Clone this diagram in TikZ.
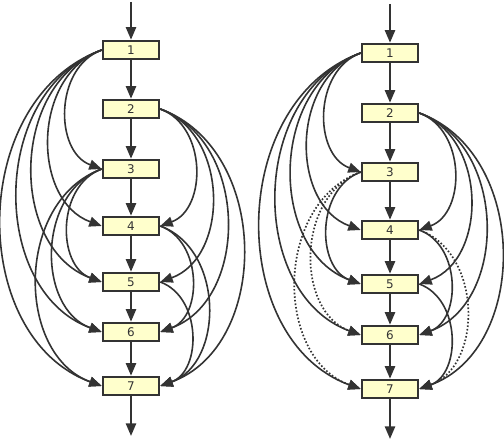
\documentclass[tikz,border=0pt]{standalone}
\usepackage{fontspec}
\setmainfont{DejaVu Sans}
\usetikzlibrary{arrows.meta}
\definecolor{ink}{HTML}{333333}
\definecolor{boxfill}{HTML}{FFFFCC}
\begin{document}
\begin{tikzpicture}[x=1bp,y=1bp,
  blk/.style={draw=ink, fill=boxfill, line width=2bp, minimum width=56.5bp, minimum height=18.5bp, inner sep=0pt, font=\fontsize{12}{14}\selectfont, text=ink},
  tip/.style={-{Triangle[length=12.5bp,width=10bp]}},
  seq/.style={draw=ink, line width=2.2bp, tip},
  lft/.style={draw=ink, line width=1.6bp, tip, out=200, in=160, looseness=1.09},
  rgt/.style={draw=ink, line width=1.6bp, tip, out=-20, in=20, looseness=1.09},
  dotline/.style={dotted, line width=1.7bp}]
\useasboundingbox (0,0) rectangle (504,440);
% left graph
\node[blk] (L1) at (131,390) {1};
\node[blk] (L2) at (131,331) {2};
\node[blk] (L3) at (131,271) {3};
\node[blk] (L4) at (131,214) {4};
\node[blk] (L5) at (131,158) {5};
\node[blk] (L6) at (131,108) {6};
\node[blk] (L7) at (131,54) {7};
\coordinate (L0) at (131,438);
\coordinate (L8) at (131,4);
\draw[seq] (L0) -- (L1);
\draw[seq] (L1) -- (L2);
\draw[seq] (L2) -- (L3);
\draw[seq] (L3) -- (L4);
\draw[seq] (L4) -- (L5);
\draw[seq] (L5) -- (L6);
\draw[seq] (L6) -- (L7);
\draw[seq] (L7) -- (L8);
\foreach \t in {3,4,5,6,7} \draw[lft] (L1.west) to (L\t.west);
\foreach \t in {5,6,7} \draw[lft] (L3.west) to (L\t.west);
\foreach \t in {4,5,6,7} \draw[rgt] (L2.east) to (L\t.east);
\foreach \t in {6,7} \draw[rgt] (L4.east) to (L\t.east);
\draw[rgt] (L5.east) to (L7.east);
% right graph
\node[blk] (R1) at (390,387) {1};
\node[blk] (R2) at (390,327) {2};
\node[blk] (R3) at (390,268) {3};
\node[blk] (R4) at (390,210) {4};
\node[blk] (R5) at (390,156) {5};
\node[blk] (R6) at (390,105) {6};
\node[blk] (R7) at (390,51) {7};
\coordinate (R0) at (390,436);
\coordinate (R8) at (390,1);
\draw[seq] (R0) -- (R1);
\draw[seq] (R1) -- (R2);
\draw[seq] (R2) -- (R3);
\draw[seq] (R3) -- (R4);
\draw[seq] (R4) -- (R5);
\draw[seq] (R5) -- (R6);
\draw[seq] (R6) -- (R7);
\draw[seq] (R7) -- (R8);
\foreach \t in {3,4,5,6,7} \draw[lft] (R1.west) to (R\t.west);
\draw[lft] (R3.west) to (R5.west);
\draw[lft, dotline] (R3.west) to (R6.west);
\draw[lft, dotline] (R3.west) to (R7.west);
\foreach \t in {4,5,6,7} \draw[rgt] (R2.east) to (R\t.east);
\draw[rgt] (R4.east) to (R6.east);
\draw[rgt, dotline] (R4.east) to (R7.east);
\draw[rgt] (R5.east) to (R7.east);
\end{tikzpicture}
\end{document}
